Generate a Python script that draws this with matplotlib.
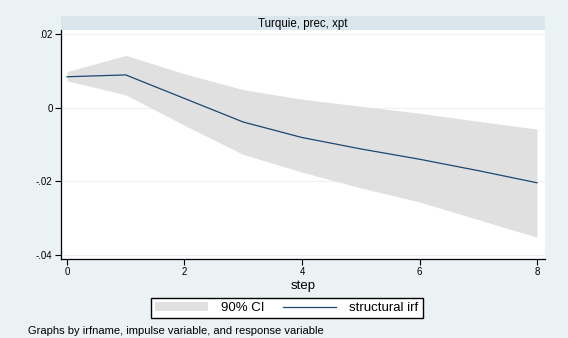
""" Stata-style impulse response chart """
import numpy as np
import matplotlib.pyplot as plt

steps = [0, 1, 2, 3, 4, 5, 6, 7, 8]
irf = [0.0084, 0.0089, 0.0025, -0.0039, -0.0081, -0.0112, -0.0140, -0.0171, -0.0204]
ci_upper = [0.0098, 0.0142, 0.0092, 0.0049, 0.0023, 0.0004, -0.0015, -0.0037, -0.0058]
ci_lower = [0.0073, 0.0035, -0.0048, -0.0127, -0.0175, -0.0218, -0.0256, -0.0304, -0.0352]

yticks = [-0.04, -0.02, 0, 0.02]
ytick_labels = ["-.04", "-.02", "0", ".02"]
xticks = [0, 2, 4, 6, 8]

panel_title = "Turquie, prec, xpt"
note = "Graphs by irfname, impulse variable, and response variable"

W, H = 568, 338
BG = "#EAF2F3"
STRIP = "#D9E6EB"
NAVY = "#1A476F"
CI = "#E0E0E0"


def px(x0, y0, x1, y1):
    """pixel box -> figure fraction rect"""
    return [x0 / W, 1 - y1 / H, (x1 - x0) / W, (y1 - y0) / H]


def main():
    """ main function """
    plt.rcParams['font.family'] = ['Liberation Sans', 'DejaVu Sans']
    fig = plt.figure(figsize=(W / 100, H / 100), dpi=100, facecolor=BG)

    # header strip
    strip = fig.add_axes(px(61, 16, 545, 30))
    strip.set_facecolor(STRIP)
    strip.set_xticks([])
    strip.set_yticks([])
    for s in strip.spines.values():
        s.set_visible(False)
    strip.text(0.5, 0.45, panel_title, ha="center", va="center", fontsize=8.3,
               transform=strip.transAxes)

    ax = fig.add_axes(px(61, 30, 545, 259))
    ax.set_facecolor("white")
    ci_patch = ax.fill_between(steps, ci_lower, ci_upper, color=CI, linewidth=0,
                               label="90% CI")
    line, = ax.plot(steps, irf, color=NAVY, linewidth=0.9, label="structural irf")

    ax.set_xlim(-0.102, 8.136)
    ax.set_ylim(-0.0411, 0.0211)
    ax.set_xticks(xticks)
    ax.set_xticklabels([str(t) for t in xticks])
    ax.set_yticks(yticks)
    ax.set_yticklabels(ytick_labels)
    ax.tick_params(labelsize=7, length=4, width=0.8, pad=2, colors="black")
    ax.grid(axis="y", color=BG, linewidth=0.8)
    ax.set_axisbelow(True)
    for side in ["top", "right"]:
        ax.spines[side].set_visible(False)
    for side in ["left", "bottom"]:
        ax.spines[side].set_linewidth(0.9)
    ax.set_xlabel("step", fontsize=9.5, labelpad=2)

    fig.legend([ci_patch, line], ["90% CI", "structural irf"], ncol=2,
               loc="center", bbox_to_anchor=(287 / W, 1 - 308 / H),
               fontsize=9.5, frameon=True, fancybox=False, edgecolor="black",
               framealpha=1, handlelength=4.0, columnspacing=1.4,
               borderpad=0.3, handletextpad=1.0)
    fig.text(28 / W, 1 - 331 / H, note, fontsize=8, ha="left", va="center")

    plt.savefig("out.png", dpi=100, facecolor=BG)


main()
